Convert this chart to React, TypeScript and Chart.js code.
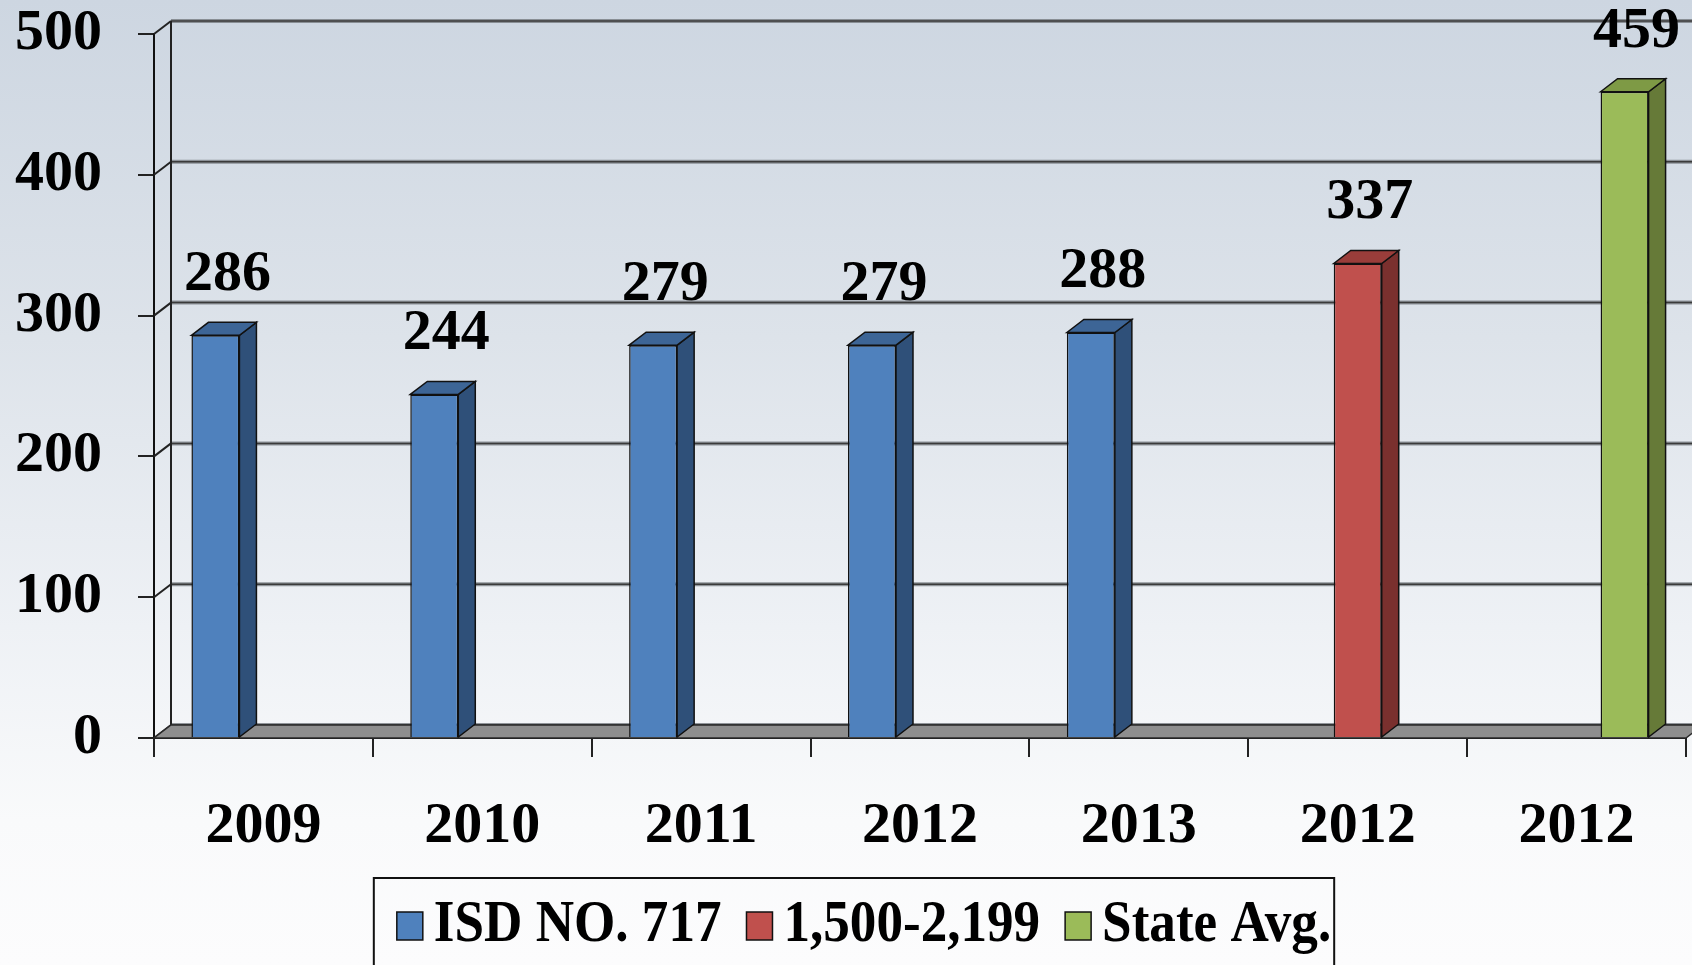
import React, { useEffect, useRef } from "react";
import { Chart, registerables } from "chart.js";

Chart.register(...registerables);

const categories = ["2009", "2010", "2011", "2012", "2013", "2012", "2012"];
const isdValues = [286, 244, 279, 279, 288, null, null];
const groupValues = [null, null, null, null, null, 337, null];
const stateValues = [null, null, null, null, null, null, 459];
const seriesNames = ["ISD NO. 717", "1,500-2,199", "State Avg."];
const yTicks = [0, 100, 200, 300, 400, 500];

const FRONT = ["#4f81bd", "#c0504d", "#9bbb59"];
const SIDE = ["#2f5079", "#7a302e", "#667a38"];
const TOP = ["#3d6596", "#9a3d3a", "#7e9a45"];
const DX = 17;
const DY = -13;
const FONT = "'Liberation Serif', 'Times New Roman', serif";

function poly(ctx: CanvasRenderingContext2D, pts: number[][], fill: string | null, stroke: string | null, lw = 1.5) {
  ctx.beginPath();
  ctx.moveTo(pts[0][0], pts[0][1]);
  for (let i = 1; i < pts.length; i++) ctx.lineTo(pts[i][0], pts[i][1]);
  ctx.closePath();
  if (fill) {
    ctx.fillStyle = fill;
    ctx.fill();
  }
  if (stroke) {
    ctx.strokeStyle = stroke;
    ctx.lineWidth = lw;
    ctx.stroke();
  }
}

function seg(ctx: CanvasRenderingContext2D, x1: number, y1: number, x2: number, y2: number) {
  ctx.beginPath();
  ctx.moveTo(x1, y1);
  ctx.lineTo(x2, y2);
  ctx.stroke();
}

const threeD = {
  id: "threeD",
  beforeDatasetsDraw(chart: any) {
    const { ctx, chartArea } = chart;
    const y = chart.scales.y;
    const L = chartArea.left;
    const R = chartArea.right;
    ctx.save();
    yTicks.forEach((v) => {
      const py = y.getPixelForValue(v);
      ctx.strokeStyle = "rgba(120,125,130,0.8)";
      ctx.lineWidth = 4;
      seg(ctx, L + DX, py + DY, R + DX + 20, py + DY);
      ctx.strokeStyle = "#3a3a3a";
      ctx.lineWidth = 1.5;
      seg(ctx, L + DX, py + DY, R + DX + 20, py + DY);
      ctx.strokeStyle = "#222";
      ctx.lineWidth = 2;
      seg(ctx, L, py, L + DX, py + DY);
    });
    ctx.strokeStyle = "#222";
    ctx.lineWidth = 2;
    seg(ctx, L + DX, y.getPixelForValue(500) + DY, L + DX, y.getPixelForValue(0) + DY);
    const b = y.getPixelForValue(0);
    poly(ctx, [[L, b], [R, b], [R + DX, b + DY], [L + DX, b + DY]], "#8e8e8e", "#2a2a2a", 1.5);
    ctx.restore();
  },
  afterDatasetsDraw(chart: any) {
    const { ctx } = chart;
    ctx.save();
    chart.data.datasets.forEach((ds: any, di: number) => {
      const meta = chart.getDatasetMeta(di);
      meta.data.forEach((el: any, i: number) => {
        const v = ds.data[i];
        if (v === null || v === undefined) return;
        const { x, y, base, width } = el.getProps(["x", "y", "base", "width"], true);
        const l = x - width / 2;
        const r = x + width / 2;
        poly(ctx, [[r, y], [r + DX, y + DY], [r + DX, base + DY], [r, base]], SIDE[di], "#111", 1.5);
        poly(ctx, [[l, y], [l + DX, y + DY], [r + DX, y + DY], [r, y]], TOP[di], "#111", 1.5);
        ctx.fillStyle = "#000";
        ctx.font = `bold 58px ${FONT}`;
        ctx.textAlign = "center";
        ctx.textBaseline = "middle";
        ctx.fillText(String(v), x + 12, y - 60);
      });
    });
    ctx.restore();
  },
  afterDraw(chart: any) {
    // legend
    const { ctx, chartArea } = chart;
    const sx = 0.9;
    const fontSize = 59;
    const boxW = 26;
    const boxH = 28;
    const gapBoxText = 11;
    const gapItems = 25;
    ctx.save();
    ctx.font = `bold ${fontSize}px ${FONT}`;
    const widths = chart.data.datasets.map((d: any) => ctx.measureText(d.label).width * sx);
    const total = widths.reduce((a: number, w: number) => a + w, 0) + widths.length * (boxW + gapBoxText) + (widths.length - 1) * gapItems;
    const centerX = (chartArea.left + chartArea.right) / 2 - 56;
    const cy = chart.height - 39;
    let x = centerX - total / 2;
    const startX = x;
    chart.data.datasets.forEach((d: any, i: number) => {
      ctx.fillStyle = d.backgroundColor;
      ctx.fillRect(x, cy - boxH / 2, boxW, boxH);
      ctx.strokeStyle = "#111";
      ctx.lineWidth = 1.5;
      ctx.strokeRect(x, cy - boxH / 2, boxW, boxH);
      x += boxW + gapBoxText;
      ctx.save();
      ctx.translate(x, cy);
      ctx.scale(sx, 1);
      ctx.fillStyle = "#000";
      ctx.textAlign = "left";
      ctx.textBaseline = "middle";
      ctx.fillText(d.label, 0, 0);
      ctx.restore();
      x += widths[i] + gapItems;
    });
    const endX = x - gapItems;
    ctx.strokeStyle = "#111";
    ctx.lineWidth = 2;
    ctx.strokeRect(startX - 23, cy - 48, endX - startX + 26, 200);
    ctx.restore();
  },
};

export default function App() {
  const ref = useRef<HTMLCanvasElement | null>(null);
  useEffect(() => {
    if (!ref.current) return;
    const tickFont = { family: FONT, size: 58, weight: "bold" as const, lineHeight: 1 };
    const chart = new Chart(ref.current, {
      type: "bar",
      data: {
        labels: categories,
        datasets: [
          { label: seriesNames[0], data: isdValues, backgroundColor: FRONT[0], borderColor: "#111", borderWidth: 1.5 },
          { label: seriesNames[1], data: groupValues, backgroundColor: FRONT[1], borderColor: "#111", borderWidth: 1.5 },
          { label: seriesNames[2], data: stateValues, backgroundColor: FRONT[2], borderColor: "#111", borderWidth: 1.5 },
        ],
      },
      options: {
        animation: false,
        responsive: false,
        maintainAspectRatio: false,
        layout: { padding: { left: 0, right: 6, top: 34, bottom: 0 } },
        datasets: { bar: { categoryPercentage: 0.658, barPercentage: 1.0 } } as any,
        plugins: {
          tooltip: { enabled: false },
          legend: { display: false },
        },
        scales: {
          x: {
            offset: true,
            grid: { display: true, offset: true, drawOnChartArea: false, drawTicks: true, tickLength: 19, color: "#222", lineWidth: 2 },
            border: { display: true, color: "#111", width: 2 },
            ticks: { font: tickFont, color: "#000", padding: 41, maxRotation: 0, autoSkip: false },
            afterFit: (s: any) => {
              s.height = 227;
              s.paddingLeft = 0;
              s.paddingRight = 0;
            },
          },
          y: {
            min: 0,
            max: 500,
            grid: { display: true, drawOnChartArea: false, drawTicks: true, tickLength: 16, color: "#222", lineWidth: 2 },
            border: { display: true, color: "#111", width: 2 },
            ticks: { stepSize: 100, font: tickFont, color: "#000", padding: 36 },
            afterFit: (s: any) => {
              s.width = 154;
              s.paddingTop = 0;
              s.paddingBottom = 0;
            },
          },
        },
      },
      plugins: [threeD],
    });
    return () => chart.destroy();
  }, []);
  return (
    <div
      style={{
        position: "fixed",
        left: 0,
        top: 0,
        width: 1692,
        height: 965,
        overflow: "hidden",
        background: "linear-gradient(to bottom, #cdd6e1 0%, #dde3ea 35%, #eef1f5 65%, #f9fafb 85%, #fcfcfd 100%)",
      }}
    >
      <canvas ref={ref} width={1692} height={965} style={{ display: "block", width: 1692, height: 965 }} />
    </div>
  );
}
